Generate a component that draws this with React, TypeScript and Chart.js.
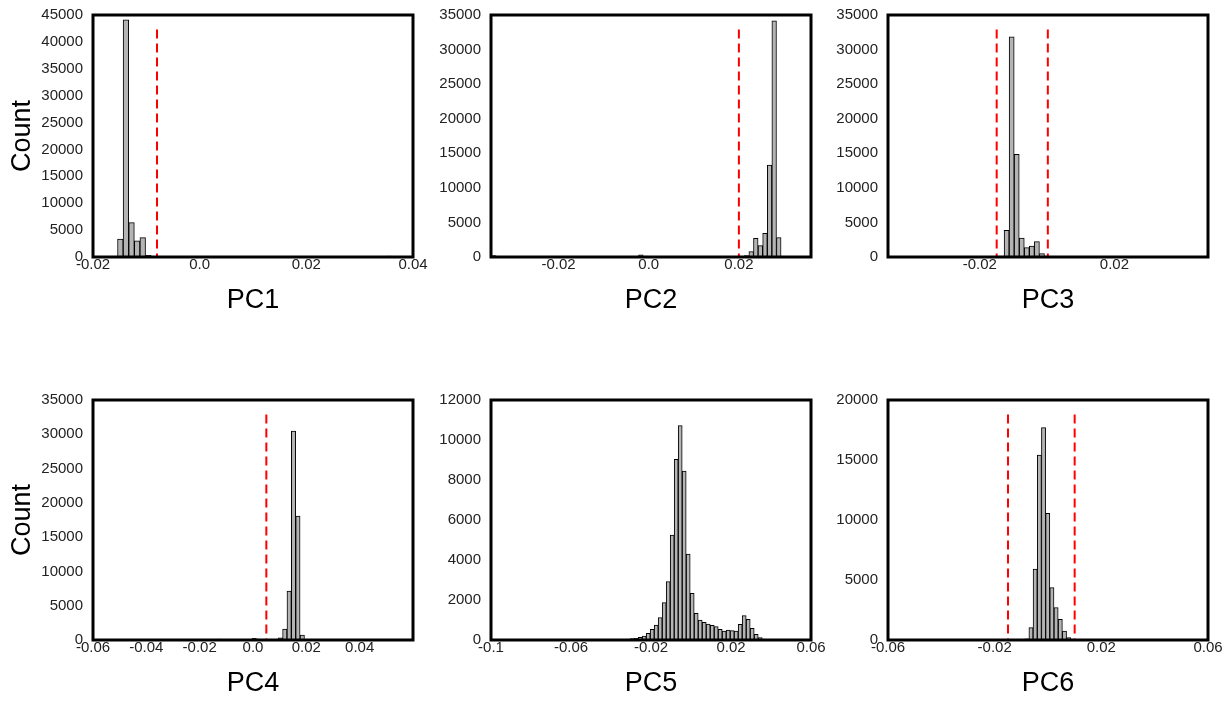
import { useEffect, useRef } from 'react';
import { Chart, registerables } from 'chart.js';

Chart.register(...registerables);

// ---------------- DATA ----------------
// PC1
const pc1XRange = [-0.02, 0.04];
const pc1XTicks = [-0.02, 0, 0.02, 0.04];
const pc1XLabels = ['-0.02', '0.0', '0.02', '0.04'];
const pc1YMax = 45000;
const pc1YStep = 5000;
const pc1Cuts = [-0.008];
const pc1BinStart = -0.0154;
const pc1BinWidth = 0.00105;
const pc1BinIndex = [0, 1, 2, 3, 4, 5, 48];
const pc1Counts = [3350, 44100, 6400, 3000, 3600, 300, 150];

// PC2
const pc2XRange = [-0.035, 0.036];
const pc2XTicks = [-0.02, 0, 0.02];
const pc2XLabels = ['-0.02', '0.0', '0.02'];
const pc2YMax = 35000;
const pc2YStep = 5000;
const pc2Cuts = [0.02];
const pc2BinStart = -0.0349;
const pc2BinWidth = 0.00102;
const pc2BinIndex = [0, 1, 32, 33, 35, 37, 54, 55, 56, 57, 58, 59, 60, 61, 62];
const pc2Counts = [200, 80, 300, 150, 80, 60, 60, 200, 770, 2700, 1640, 3430, 13300, 34170, 2800];

// PC3
const pc3XRange = [-0.0473, 0.0478];
const pc3XTicks = [-0.02, 0.02];
const pc3XLabels = ['-0.02', '0.02'];
const pc3YMax = 35000;
const pc3YStep = 5000;
const pc3Cuts = [-0.015, 0.0002];
const pc3BinStart = -0.0158;
const pc3BinWidth = 0.0015;
const pc3BinIndex = [0, 1, 2, 3, 4, 5, 6, 7, 8, 9, 10, 37];
const pc3Counts = [60, 150, 3860, 31830, 14850, 2750, 1360, 1590, 2230, 490, 150, 100];

// PC4
const pc4XRange = [-0.06, 0.06];
const pc4XTicks = [-0.06, -0.04, -0.02, 0, 0.02, 0.04];
const pc4XLabels = ['-0.06', '-0.04', '-0.02', '0.0', '0.02', '0.04'];
const pc4YMax = 35000;
const pc4YStep = 5000;
const pc4Cuts = [0.005];
const pc4BinStart = -0.0135;
const pc4BinWidth = 0.00164;
const pc4BinIndex = [0, 1, 8, 9, 12, 13, 14, 15, 16, 17, 18, 19];
const pc4Counts = [150, 100, 250, 150, 50, 80, 300, 1600, 7150, 30480, 18080, 730];

// PC5
const pc5XRange = [-0.1, 0.06];
const pc5XTicks = [-0.1, -0.06, -0.02, 0.02, 0.06];
const pc5XLabels = ['-0.1', '-0.06', '-0.02', '0.02', '0.06'];
const pc5YMax = 12000;
const pc5YStep = 2000;
const pc5Cuts: number[] = [];
const pc5BinStart = -0.0344;
const pc5BinWidth = 0.002;
const pc5BinIndex = [
  0, 1, 2, 3, 4, 5, 6, 7, 8, 9, 10, 11, 12, 13, 14, 15, 16, 17,
  18, 19, 20, 21, 22, 23, 24, 25, 26, 27, 28, 29, 30, 31, 32, 33, 34, 35,
];
const pc5Counts = [
  30, 50, 70, 80, 130, 200, 330, 530, 750, 1120, 1870, 2920, 5250, 9030, 10720, 8450, 4300, 2330,
  1330, 1000, 880, 800, 730, 670, 530, 450, 500, 470, 450, 780, 1220, 1030, 580, 280, 120, 50,
];

// PC6
const pc6XRange = [-0.06, 0.06];
const pc6XTicks = [-0.06, -0.02, 0.02, 0.06];
const pc6XLabels = ['-0.06', '-0.02', '0.02', '0.06'];
const pc6YMax = 20000;
const pc6YStep = 5000;
const pc6Cuts = [-0.015, 0.01];
const pc6BinStart = -0.00874;
const pc6BinWidth = 0.00157;
const pc6BinIndex = [0, 1, 2, 3, 4, 5, 6, 7, 8, 9, 10];
const pc6Counts = [100, 1030, 5920, 15420, 17700, 10560, 4360, 2700, 1720, 750, 200];

const panelTitles = ['PC1', 'PC2', 'PC3', 'PC4', 'PC5', 'PC6'];

// ---------------- LAYOUT ----------------
const FONT = "'Liberation Sans', Arial, Helvetica, sans-serif";
const AXIS_W = 93;
const AXIS_H = 62;
const PAD_TOP = 15;
const PAD_RIGHT = 22;
const PLOT_W = 320;

type PanelDef = {
  title: string;
  xRange: number[];
  xTicks: number[];
  xLabels: string[];
  yMax: number;
  yStep: number;
  cuts: number[];
  binStart: number;
  binWidth: number;
  binIndex: number[];
  counts: number[];
  left: number;
  top: number;
  plotH: number;
  showCount: boolean;
};

const panels: PanelDef[] = [
  { title: panelTitles[0], xRange: pc1XRange, xTicks: pc1XTicks, xLabels: pc1XLabels, yMax: pc1YMax, yStep: pc1YStep, cuts: pc1Cuts, binStart: pc1BinStart, binWidth: pc1BinWidth, binIndex: pc1BinIndex, counts: pc1Counts, left: 93, top: 15, plotH: 242, showCount: true },
  { title: panelTitles[1], xRange: pc2XRange, xTicks: pc2XTicks, xLabels: pc2XLabels, yMax: pc2YMax, yStep: pc2YStep, cuts: pc2Cuts, binStart: pc2BinStart, binWidth: pc2BinWidth, binIndex: pc2BinIndex, counts: pc2Counts, left: 491, top: 15, plotH: 242, showCount: false },
  { title: panelTitles[2], xRange: pc3XRange, xTicks: pc3XTicks, xLabels: pc3XLabels, yMax: pc3YMax, yStep: pc3YStep, cuts: pc3Cuts, binStart: pc3BinStart, binWidth: pc3BinWidth, binIndex: pc3BinIndex, counts: pc3Counts, left: 888, top: 15, plotH: 242, showCount: false },
  { title: panelTitles[3], xRange: pc4XRange, xTicks: pc4XTicks, xLabels: pc4XLabels, yMax: pc4YMax, yStep: pc4YStep, cuts: pc4Cuts, binStart: pc4BinStart, binWidth: pc4BinWidth, binIndex: pc4BinIndex, counts: pc4Counts, left: 93, top: 400, plotH: 240, showCount: true },
  { title: panelTitles[4], xRange: pc5XRange, xTicks: pc5XTicks, xLabels: pc5XLabels, yMax: pc5YMax, yStep: pc5YStep, cuts: pc5Cuts, binStart: pc5BinStart, binWidth: pc5BinWidth, binIndex: pc5BinIndex, counts: pc5Counts, left: 491, top: 400, plotH: 240, showCount: false },
  { title: panelTitles[5], xRange: pc6XRange, xTicks: pc6XTicks, xLabels: pc6XLabels, yMax: pc6YMax, yStep: pc6YStep, cuts: pc6Cuts, binStart: pc6BinStart, binWidth: pc6BinWidth, binIndex: pc6BinIndex, counts: pc6Counts, left: 888, top: 400, plotH: 240, showCount: false },
];

const framePlugin = {
  id: 'frameBox',
  afterDatasetsDraw(chart: any) {
    const { ctx, chartArea: a } = chart;
    ctx.save();
    ctx.strokeStyle = '#000';
    ctx.lineWidth = 3;
    ctx.lineJoin = 'miter';
    ctx.strokeRect(a.left, a.top, a.right - a.left, a.bottom - a.top);
    ctx.restore();
  },
};

function Panel({ p }: { p: PanelDef }) {
  const ref = useRef<HTMLCanvasElement | null>(null);
  const width = AXIS_W + PLOT_W + PAD_RIGHT;
  const height = PAD_TOP + p.plotH + AXIS_H;

  useEffect(() => {
    if (!ref.current) return;
    const barData = p.binIndex.map((k, i) => ({
      x: p.binStart + (k + 0.5) * p.binWidth,
      y: p.counts[i],
    }));
    const cutSets = p.cuts.map((c) => ({
      type: 'line' as const,
      data: [
        { x: c, y: p.yMax * 0.94 },
        { x: c, y: 0 },
      ],
      borderColor: '#ff0000',
      borderWidth: 2,
      borderDash: [9, 5],
      pointRadius: 0,
      fill: false,
      tension: 0,
      order: 0,
    }));
    const chart = new Chart(ref.current, {
      type: 'bar',
      data: {
        datasets: [
          {
            type: 'bar' as const,
            data: barData,
            backgroundColor: '#b4b4b4',
            borderColor: '#000000',
            borderWidth: 1,
            borderSkipped: 'start',
            barPercentage: 1,
            categoryPercentage: 1,
            order: 1,
          } as any,
          ...cutSets,
        ],
      },
      options: {
        animation: false,
        responsive: false,
        devicePixelRatio: 1,
        layout: { padding: { top: PAD_TOP, right: PAD_RIGHT, left: 0, bottom: 0 } },
        plugins: {
          legend: { display: false },
          tooltip: { enabled: false },
        },
        scales: {
          x: {
            type: 'linear',
            min: p.xRange[0],
            max: p.xRange[1],
            offset: false,
            grid: { display: false, drawTicks: false },
            border: { display: false },
            afterBuildTicks: (s: any) => {
              s.ticks = p.xTicks.map((v) => ({ value: v }));
            },
            afterFit: (s: any) => {
              s.height = AXIS_H;
              s.paddingLeft = 0;
              s.paddingRight = 0;
            },
            ticks: {
              autoSkip: false,
              maxRotation: 0,
              minRotation: 0,
              padding: 0,
              color: '#222',
              font: { family: FONT, size: 15, lineHeight: 1 },
              callback: (_v: any, i: number) => p.xLabels[i],
            },
            title: {
              display: true,
              text: p.title,
              color: '#000',
              font: { family: FONT, size: 27 },
              padding: { top: 0, bottom: 2 },
            },
          },
          y: {
            type: 'linear',
            min: 0,
            max: p.yMax,
            grid: { display: false, drawTicks: false },
            border: { display: false },
            afterFit: (s: any) => {
              s.width = AXIS_W;
              s.paddingTop = 0;
              s.paddingBottom = 0;
            },
            ticks: {
              stepSize: p.yStep,
              padding: 10,
              color: '#222',
              font: { family: FONT, size: 15 },
              callback: (v: any) => String(v),
            },
            title: {
              display: p.showCount,
              text: 'Count',
              color: '#000',
              font: { family: FONT, size: 27 },
              padding: { top: 6, bottom: 0 },
            },
          },
        },
      } as any,
      plugins: [framePlugin],
    });
    return () => chart.destroy();
  }, [p]);

  return (
    <canvas
      ref={ref}
      width={width}
      height={height}
      style={{
        position: 'absolute',
        left: p.left - AXIS_W,
        top: p.top - PAD_TOP,
        width,
        height,
      }}
    />
  );
}

export default function App() {
  return (
    <div
      style={{
        position: 'absolute',
        left: 0,
        top: 0,
        width: 1231,
        height: 702,
        background: '#ffffff',
        overflow: 'hidden',
      }}
    >
      {panels.map((p) => (
        <Panel key={p.title} p={p} />
      ))}
    </div>
  );
}
